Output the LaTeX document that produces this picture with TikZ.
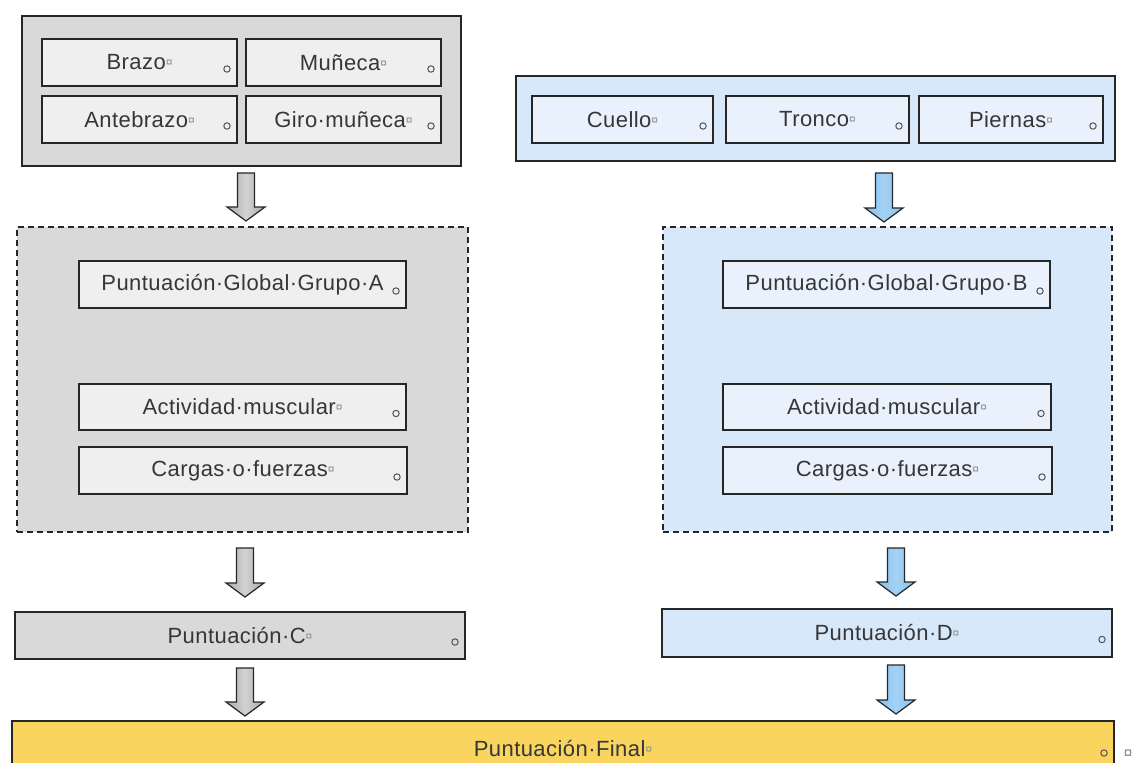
\documentclass[tikz,border=0pt]{standalone}
\usepackage{fontspec}
\setmainfont[LetterSpace=2]{Liberation Sans}
\usetikzlibrary{calc}
\definecolor{txt}{HTML}{363636}
\definecolor{edge}{HTML}{262626}
\definecolor{grayA}{HTML}{D9D9D9}
\definecolor{grayCell}{HTML}{EFEFEF}
\definecolor{grayArrowD}{HTML}{AAAAAA}
\definecolor{grayArrowL}{HTML}{D2D2D2}
\definecolor{blueA}{HTML}{D6E8FA}
\definecolor{blueCell}{HTML}{E9F2FC}
\definecolor{blueArrowD}{HTML}{86C0EE}
\definecolor{blueArrowL}{HTML}{A4D2F5}
\definecolor{finalY}{HTML}{F9D45E}
\definecolor{markc}{HTML}{8A8A8A}
\newcommand\cellend{{\fontsize{12}{12}\selectfont\color{markc}\raisebox{3pt}{¤}}}
\newcommand\blockarrow[4]{%
  \draw[barrowline, left color=#1, right color=#1, middle color=#2] let \p1=#3, \p2=#4 in
    (\x1-8.5pt,\y1) -- (\x1+8.5pt,\y1) -- (\x1+8.5pt,\y2+14pt) -- (\x1+19pt,\y2+14pt)
    -- (\x1,\y2) -- (\x1-19pt,\y2+14pt) -- (\x1-8.5pt,\y2+14pt) -- cycle;}
\begin{document}
\begin{tikzpicture}[x=1pt,y=-1pt,
  every node/.style={inner sep=0pt, outer sep=0pt},
  base/.style={rectangle, anchor=north west, font=\fontsize{22}{26}\selectfont, text=txt},
  grp/.style={base, draw=edge, line width=1.8pt},
  cell/.style={base, draw=edge, line width=1.5pt},
  dashbox/.style={base, draw=edge, line width=1.3pt, dash pattern=on 6pt off 4pt},
  endmark/.style={draw=markc!60!black, line width=1pt},
  barrowline/.style={draw=edge, line width=1.2pt, line join=miter}]

\useasboundingbox[fill=white] (0,0) rectangle (1136,763);

% ---- group A (gray)
\node[grp, fill=grayA, minimum width=439pt, minimum height=150pt] (grpA) at (22,16) {};
\node[cell, fill=grayCell, minimum width=195pt, minimum height=47pt] (brazo) at (42,39) {Brazo\cellend};
\node[cell, fill=grayCell, minimum width=195pt, minimum height=47pt] (muneca) at (246,39) {Muñeca\cellend};
\node[cell, fill=grayCell, minimum width=195pt, minimum height=47pt] (ante) at (42,96) {Antebrazo\cellend};
\node[cell, fill=grayCell, minimum width=195pt, minimum height=47pt] (giro) at (246,96) {Giro·muñeca\cellend};

% ---- group B (blue)
\node[grp, fill=blueA, minimum width=599pt, minimum height=85pt] (grpB) at (516,76) {};
\node[cell, fill=blueCell, minimum width=181pt, minimum height=47pt] (cuello) at (532,96) {Cuello\cellend};
\node[cell, fill=blueCell, minimum width=183pt, minimum height=47pt] (tronco) at (726,96) {Tronco\cellend};
\node[cell, fill=blueCell, minimum width=184pt, minimum height=47pt] (piernas) at (919,96) {Piernas\cellend};

% ---- dashed A
\node[dashbox, fill=grayA, minimum width=451pt, minimum height=305pt] (dashA) at (17,227) {};
\node[cell, fill=grayCell, minimum width=327pt, minimum height=47pt] (globA) at (79,261) {Puntuación·Global·Grupo·A};
\node[cell, fill=grayCell, minimum width=327pt, minimum height=46pt] (actA) at (79,384) {Actividad·muscular\cellend};
\node[cell, fill=grayCell, minimum width=328pt, minimum height=47pt] (cargA) at (79,447) {Cargas·o·fuerzas\cellend};

% ---- dashed B
\node[dashbox, fill=blueA, minimum width=449pt, minimum height=305pt] (dashB) at (663,227) {};
\node[cell, fill=blueCell, minimum width=327pt, minimum height=47pt] (globB) at (723,261) {Puntuación·Global·Grupo·B};
\node[cell, fill=blueCell, minimum width=328pt, minimum height=46pt] (actB) at (723,384) {Actividad·muscular\cellend};
\node[cell, fill=blueCell, minimum width=329pt, minimum height=47pt] (cargB) at (723,447) {Cargas·o·fuerzas\cellend};

% ---- scores C, D, final
\node[cell, fill=grayA, minimum width=450pt, minimum height=47pt] (puntC) at (15,612) {Puntuación·C\cellend};
\node[cell, fill=blueA, minimum width=450pt, minimum height=48pt] (puntD) at (662,609) {Puntuación·D\cellend};
\node[cell, fill=finalY, minimum width=1102pt, minimum height=56pt] (final) at (12,721) {};
\node[base, anchor=center] (finaltxt) at (563,748) {Puntuación·Final\cellend};
\node[anchor=center, font=\fontsize{16}{16}\selectfont, text=markc] (rowend) at (1128,754) {¤};

% ---- end-of-cell marks
\foreach \n in {brazo,muneca,ante,giro,cuello,tronco,piernas,globA,actA,cargA,globB,actB,cargB,puntC,puntD}
  \draw[endmark] ($(\n.east)+(-10,6.5)$) circle[radius=3.2pt];
\draw[endmark] ($(final.north east)+(-10,32)$) circle[radius=3.2pt];

% ---- block arrows
\blockarrow{grayArrowD}{grayArrowL}{($(grpA.south)+(4.5,7)$)}{($(dashA.north)+(3.5,-6)$)}
\blockarrow{blueArrowD}{blueArrowL}{($(grpB.south)+(68.5,12)$)}{($(dashB.north)+(-3.5,-5)$)}
\blockarrow{grayArrowD}{grayArrowL}{($(dashA.south)+(2.5,16)$)}{($(puntC.north)+(5,-15)$)}
\blockarrow{blueArrowD}{blueArrowL}{($(dashB.south)+(8.5,16)$)}{($(puntD.north)+(9,-13)$)}
\blockarrow{grayArrowD}{grayArrowL}{($(puntC.south)+(5,9)$)}{($(final.north)+(-318,-5)$)}
\blockarrow{blueArrowD}{blueArrowL}{($(puntD.south)+(9,8)$)}{($(final.north)+(333,-7)$)}
\end{tikzpicture}
\end{document}
